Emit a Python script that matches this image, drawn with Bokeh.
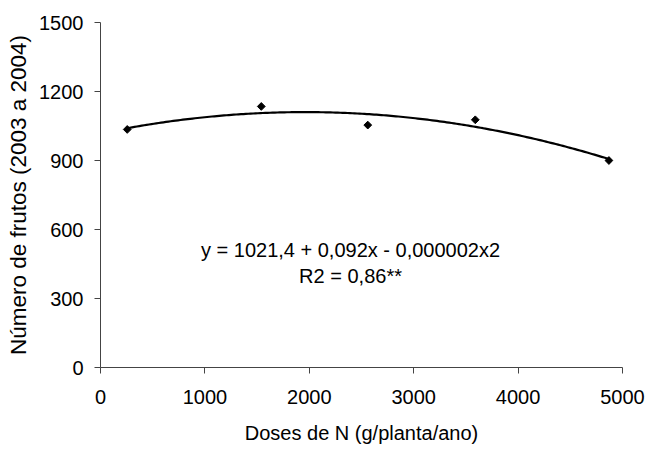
import numpy as np
from bokeh.plotting import figure
from bokeh.models import FixedTicker, Label, Range1d
from bokeh.embed import file_html
from bokeh.resources import INLINE

# Data
doses = [256, 1540, 2560, 3590, 4870]
frutos = [1035, 1135, 1054, 1077, 900]
x_ticks = [0, 1000, 2000, 3000, 4000, 5000]
y_ticks = [0, 300, 600, 900, 1200, 1500]
eq_text = "y = 1021,4 + 0,092x - 0,000002x2"
r2_text = "R2 = 0,86**"
x_title = "Doses de N (g/planta/ano)"
y_title = "Número de frutos (2003 a 2004)"

FONT = "Liberation Sans"

p = figure(width=646, height=450, output_backend="svg", toolbar_location=None,
           x_range=Range1d(0, 5000), y_range=Range1d(0, 1500),
           min_border_left=100, min_border_right=24, min_border_top=22,
           min_border_bottom=83)
p.outline_line_color = None
p.xgrid.visible = False
p.ygrid.visible = False
p.background_fill_color = "white"
p.border_fill_color = "white"

# quadratic trend line fitted to the data points
coef = np.polyfit(doses, frutos, 2)
xs = np.linspace(min(doses), max(doses), 200)
ys = np.polyval(coef, xs)
p.line(xs, ys, line_color="black", line_width=2.2)

p.scatter(doses, frutos, marker="square", size=5.5, angle=np.pi / 4,
          fill_color="black", line_color="black")

for ax, ticks in ((p.xaxis[0], x_ticks), (p.yaxis[0], y_ticks)):
    ax.ticker = FixedTicker(ticks=ticks)
    ax.minor_tick_line_color = None
    ax.major_tick_in = 0
    ax.major_tick_out = 6
    ax.axis_line_color = "#444444"
    ax.major_tick_line_color = "#444444"
    ax.major_label_text_font = FONT
    ax.major_label_text_font_size = "20px"
    ax.major_label_text_color = "black"
    ax.axis_label_text_font = FONT
    ax.axis_label_text_font_style = "normal"
    ax.axis_label_text_color = "black"

p.xaxis[0].axis_label = x_title
p.xaxis[0].axis_label_text_font_size = "20px"
p.xaxis[0].major_label_standoff = 16
p.xaxis[0].axis_label_standoff = 15

p.yaxis[0].axis_label = y_title
p.yaxis[0].axis_label_text_font_size = "22.5px"
p.yaxis[0].major_label_standoff = 11
p.yaxis[0].axis_label_standoff = 5

for txt, yv in ((eq_text, 513), (r2_text, 399)):
    p.add_layout(Label(x=2395, y=yv, text=txt, text_align="center",
                       text_baseline="alphabetic", text_font=FONT,
                       text_font_size="20px", text_color="black"))

open("out.html", "w").write(file_html(p, INLINE))
